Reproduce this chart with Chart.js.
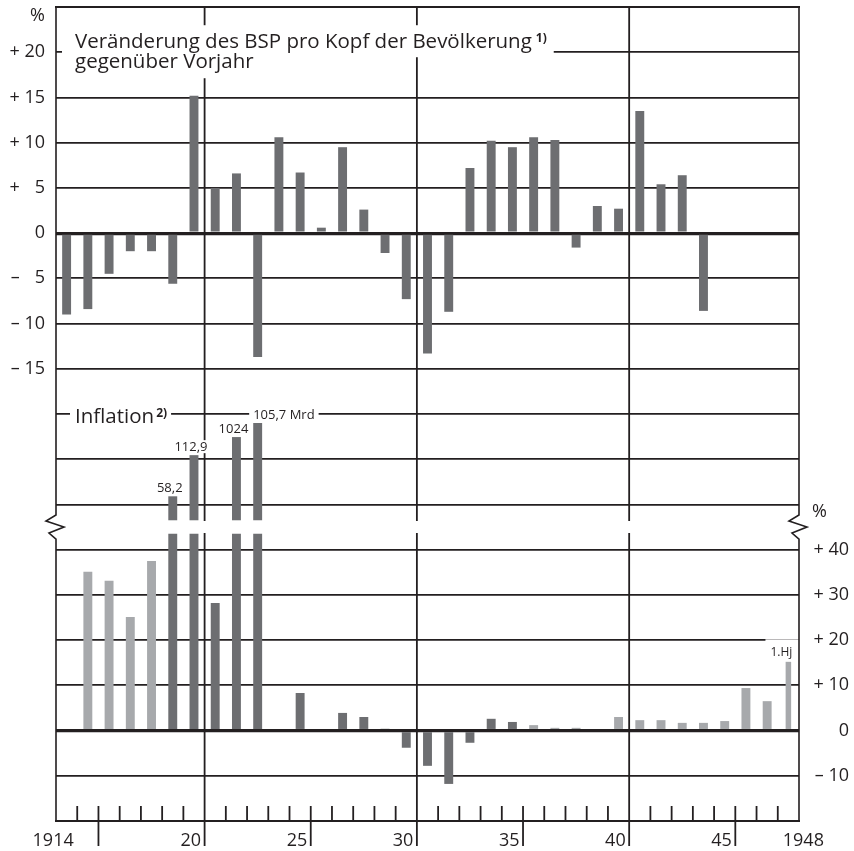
<!DOCTYPE html>
<html lang="de">
<head>
<meta charset="utf-8">
<title>BSP pro Kopf und Inflation 1914–1948</title>
<script src="https://cdn.jsdelivr.net/npm/chart.js@4.4.1/dist/chart.umd.min.js"></script>
<style>
  html, body { margin: 0; padding: 0; background: #fff; }
</style>
</head>
<body>
<canvas id="chart" width="854" height="851"></canvas>
<script>
// years on the x axis (one slot per year)
const years = [1914, 1915, 1916, 1917, 1918, 1919, 1920, 1921, 1922, 1923, 1924, 1925,
  1926, 1927, 1928, 1929, 1930, 1931, 1932, 1933, 1934, 1935, 1936, 1937, 1938, 1939,
  1940, 1941, 1942, 1943, 1944, 1945, 1946, 1947, 1948];
const yearTickYears = [1914, 1920, 1925, 1930, 1935, 1940, 1945, 1948];
const yearTickLabels = ['1914', '20', '25', '30', '35', '40', '45', '1948'];

// Veränderung des BSP pro Kopf gegenüber Vorjahr, %
const bspChange = [-9.0, -8.4, -4.5, -2.0, -2.0, -5.6, 15.2, 5.0, 6.6, -13.7, 10.6, 6.7,
  0.6, 9.5, 2.6, -2.2, -7.3, -13.3, -8.7, 7.2, 10.2, 9.5, 10.6, 10.3, -1.6, 3.0,
  2.7, 13.5, 5.4, 6.4, -8.6, null, null, null, null];

// Inflation, %
const inflation = [null, 35.1, 33.1, 25.1, 37.5, 58.2, 112.9, 28.2, 1024, 105.7e9, null, 8.3,
  null, 3.9, 3.0, 0.4, -3.8, -7.8, -11.8, -2.7, 2.6, 1.9, 1.2, 0.6, 0.6, null,
  3.0, 2.3, 2.3, 1.7, 1.7, 2.1, 9.4, 6.5, 15.2];
const inflDarkFrom = 1919;
const inflDarkTo = 1935;
const halfYear = 1948;
const halfYearLabel = '1.Hj';

// values beyond the axis break, drawn schematically above it (height in grid rows)
const inflBigYears = [1919, 1920, 1922, 1923];
const inflBigLabels = ['58,2', '112,9', '1024', '105,7 Mrd'];
const inflBigShownRows = [0.68, 1.59, 1.99, 2.30];

const ink = '#231f20';
const darkBar = '#6d6e71';
const lightBar = '#a7a9ac';
const FONT = "'Open Sans', 'Noto Sans', sans-serif";
Chart.defaults.font.family = FONT;

const bspMin = -65, bspMax = 25, breakAt = -32.5, rowSize = 5;
const inflMin = -20, inflMax = 160, inflCap = 43.5;

const fmtPct = v => v === 0 ? '0' :
  (v > 0 ? '+ ' : '\u2013 ') + (Math.abs(v) < 10 ? '\u2007' : '') + Math.abs(v);

const lowInfl = inflation.map((v, i) => v === null || years[i] === halfYear ? null : Math.min(v, inflCap));
const halfInfl = inflation.map((v, i) => years[i] === halfYear ? v : null);
const inflColors = years.map(y => y >= inflDarkFrom && y <= inflDarkTo ? darkBar : lightBar);
const bigBars = years.map(y => {
  const k = inflBigYears.indexOf(y);
  return k < 0 ? null : [0.15, inflBigShownRows[k]];
});

const boundary = (x, i) => (x.getPixelForValue(i) + x.getPixelForValue(i + 1)) / 2;

function knockout(ctx, x0, y0, x1, y1) {
  ctx.fillStyle = '#fff';
  ctx.fillRect(x0, y0, x1 - x0, y1 - y0);
}

// keep the plot frame where it is, whatever the tick labels want
function fixWidth(w) {
  return s => {
    s.width = w;
    s.paddingTop = 0;
    s.paddingBottom = 0;
  };
}

const decor = {
  id: 'decor',
  beforeDatasetsDraw(chart) {
    const {ctx, chartArea: a, scales: {x, yOff}} = chart;
    const brk = yOff.getPixelForValue(0);
    ctx.save();
    ctx.strokeStyle = ink;
    ctx.lineWidth = 1.8;
    for (let i = 0; i < years.length - 1; i++) {
      const bx = boundary(x, i);
      const yr = years[i];
      ctx.beginPath();
      if (yr % 10 === 0) {
        ctx.moveTo(bx, a.top);
        ctx.lineTo(bx, brk - 6);
        ctx.moveTo(bx, brk + 6);
        ctx.lineTo(bx, a.bottom + 25);
      } else if (yr % 5 === 0) {
        ctx.moveTo(bx, a.bottom - 15);
        ctx.lineTo(bx, a.bottom + 25);
      } else {
        ctx.moveTo(bx, a.bottom - 15);
        ctx.lineTo(bx, a.bottom);
      }
      ctx.stroke();
    }
    ctx.restore();
  },
  afterDatasetsDraw(chart) {
    const {ctx, chartArea: a, scales: {x, yBsp, yOff}} = chart;
    const brk = yOff.getPixelForValue(0);
    ctx.save();
    ctx.textBaseline = 'alphabetic';

    // title of the upper panel
    const tx = a.left + 19;
    const tb = yBsp.getPixelForValue(20) - 4;
    const t1 = 'Veränderung des BSP pro Kopf der Bevölkerung';
    const t2 = 'gegenüber Vorjahr';
    ctx.font = `20.5px ${FONT}`;
    const w1 = ctx.measureText(t1).width;
    const w2 = ctx.measureText(t2).width;
    ctx.font = `bold 12px ${FONT}`;
    const ws1 = ctx.measureText('1)').width;
    knockout(ctx, a.left + 6, tb - 23, tx + w1 + 4 + ws1 + 7, tb + 9);
    knockout(ctx, a.left + 6, tb + 9, tx + w2 + 8, tb + 30);
    ctx.fillStyle = ink;
    ctx.font = `20.5px ${FONT}`;
    ctx.textAlign = 'left';
    ctx.fillText(t1, tx, tb);
    ctx.fillText(t2, tx, tb + 20);
    ctx.font = `bold 12px ${FONT}`;
    ctx.fillText('1)', tx + w1 + 4, tb - 6);

    // "Inflation" heading
    const ib = yBsp.getPixelForValue(-20) + 9;
    ctx.font = `20.5px ${FONT}`;
    const wi = ctx.measureText('Inflation').width;
    ctx.font = `bold 12px ${FONT}`;
    const ws2 = ctx.measureText('2)').width;
    knockout(ctx, a.left + 14, ib - 19, tx + wi + 2 + ws2 + 4, ib + 3);
    ctx.fillStyle = ink;
    ctx.font = `20.5px ${FONT}`;
    ctx.fillText('Inflation', tx, ib);
    ctx.font = `bold 12px ${FONT}`;
    ctx.fillText('2)', tx + wi + 2, ib - 6);

    // labels of the off-scale inflation values
    const bigMeta = chart.getDatasetMeta(2);
    ctx.font = `13px ${FONT}`;
    inflBigYears.forEach((yr, k) => {
      const el = bigMeta.data[years.indexOf(yr)];
      const label = inflBigLabels[k];
      const w = ctx.measureText(label).width;
      const last = k === inflBigYears.length - 1;
      const lx = last ? el.x - 4.5 : el.x - 3 - w / 2;
      const lb = el.y - 4;
      knockout(ctx, lx - 4, lb - 11, lx + w + 4, lb + 2);
      ctx.fillStyle = ink;
      ctx.textAlign = 'left';
      ctx.fillText(label, lx, lb);
    });

    // first half-year note
    const halfMeta = chart.getDatasetMeta(3);
    const hel = halfMeta.data[years.indexOf(halfYear)];
    ctx.font = `12px ${FONT}`;
    const hw = ctx.measureText(halfYearLabel).width;
    const hx = hel.x - 7 - hw / 2;
    const hb = hel.y - 5.5;
    knockout(ctx, hx - 5, hb - 17, a.right, hb + 2);
    ctx.fillStyle = ink;
    ctx.fillText(halfYearLabel, hx, hb);

    // year labels
    ctx.font = `18px ${FONT}`;
    yearTickYears.forEach((yr, k) => {
      const i = years.indexOf(yr);
      if (yr === years[years.length - 1]) {
        ctx.textAlign = 'left';
        ctx.fillText(yearTickLabels[k], boundary(x, i - 1) + 5, a.bottom + 25);
      } else {
        ctx.textAlign = 'right';
        ctx.fillText(yearTickLabels[k], boundary(x, i) - 3.5, a.bottom + 25);
      }
    });

    // unit signs
    ctx.textAlign = 'left';
    ctx.fillText('%', 30, a.top + 14);
    ctx.fillText('%', a.right + 13, brk - 10);

    // frame with axis breaks
    ctx.strokeStyle = ink;
    ctx.lineWidth = 2;
    ctx.beginPath();
    ctx.moveTo(a.left - 1, a.top);
    ctx.lineTo(a.right + 1, a.top);
    ctx.moveTo(a.left - 1, a.bottom);
    ctx.lineTo(a.right + 1, a.bottom);
    ctx.stroke();
    ctx.lineWidth = 1.6;
    for (const ex of [a.left, a.right]) {
      ctx.beginPath();
      ctx.moveTo(ex, a.top);
      ctx.lineTo(ex, brk - 12);
      ctx.lineTo(ex - 10, brk - 6);
      ctx.lineTo(ex + 8, brk);
      ctx.lineTo(ex - 7, brk + 6);
      ctx.lineTo(ex, brk + 12);
      ctx.lineTo(ex, a.bottom);
      ctx.stroke();
    }
    ctx.restore();
  }
};

const barBase = {
  grouped: false,
  categoryPercentage: 1,
  barPercentage: 0.42,
  borderWidth: 0
};

new Chart(document.getElementById('chart'), {
  type: 'bar',
  data: {
    labels: years,
    datasets: [
      { ...barBase, label: 'BSP pro Kopf', data: bspChange, yAxisID: 'yBsp', backgroundColor: darkBar },
      { ...barBase, label: 'Inflation', data: lowInfl, yAxisID: 'yInf', backgroundColor: inflColors },
      { ...barBase, label: 'Inflation (über Bruch)', data: bigBars, yAxisID: 'yOff', backgroundColor: darkBar },
      { ...barBase, barPercentage: 0.26, label: 'Inflation 1. Hj', data: halfInfl, yAxisID: 'yInf', backgroundColor: lightBar }
    ]
  },
  options: {
    responsive: false,
    animation: false,
    devicePixelRatio: 1,
    layout: { padding: { top: 7, bottom: 30, left: 0, right: 5 } },
    plugins: { legend: { display: false }, tooltip: { enabled: false }, title: { display: false } },
    scales: {
      x: { type: 'category', display: false, offset: true, grid: { offset: true } },
      yBsp: {
        type: 'linear', position: 'left', min: bspMin, max: bspMax,
        afterFit: fixWidth(56),
        border: { display: false },
        ticks: {
          stepSize: 5, padding: 11, color: ink, font: { size: 18 },
          callback: v => v > 20 || v < -30 ? null : (v < -15 ? '' : fmtPct(v))
        },
        grid: {
          drawTicks: false,
          color: c => c.tick && c.tick.value >= -30 && c.tick.value <= 20 ? ink : 'rgba(0,0,0,0)',
          lineWidth: c => c.tick && c.tick.value === 0 ? 3.2 : 1.8
        }
      },
      yInf: {
        type: 'linear', position: 'right', min: inflMin, max: inflMax,
        afterFit: fixWidth(50),
        border: { display: false },
        ticks: {
          stepSize: 10, padding: 0, crossAlign: 'far', color: ink, font: { size: 18 },
          callback: v => v < -10 || v > 40 ? null : fmtPct(v)
        },
        grid: {
          drawTicks: false,
          color: c => c.tick && c.tick.value >= -10 && c.tick.value <= 40 ? ink : 'rgba(0,0,0,0)',
          lineWidth: c => c.tick && c.tick.value === 0 ? 3.2 : 1.8
        }
      },
      yOff: {
        type: 'linear', display: false,
        min: (bspMin - breakAt) / rowSize, max: (bspMax - breakAt) / rowSize
      }
    }
  },
  plugins: [decor]
});
</script>
</body>
</html>
